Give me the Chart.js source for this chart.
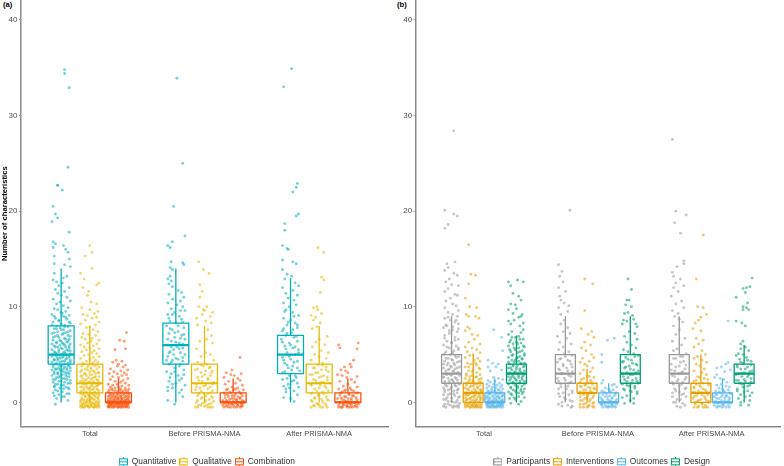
<!DOCTYPE html>
<html>
<head>
<meta charset="utf-8">
<title>Number of characteristics</title>
<script src="https://cdn.jsdelivr.net/npm/chart.js@4"></script>
<style>
  html, body { margin: 0; padding: 0; background: #fff; overflow: hidden; }
  canvas { position: absolute; top: -3px; }
  #chartA { left: 0; }
  #chartB { left: 392px; }
  .tag { position: absolute; top: 0; font: bold 7.7px "Liberation Sans", Arial, sans-serif; color: #000; }
</style>
</head>
<body>
<div class="tag" style="left:3px">(a)</div>
<div class="tag" style="left:397px">(b)</div>
<canvas id="chartA" width="392" height="469"></canvas>
<canvas id="chartB" width="392" height="469"></canvas>
<script>
const periods = ["Total", "Before PRISMA-NMA", "After PRISMA-NMA"];
const typeSeries = ["Quantitative", "Qualitative", "Combination"];
const typeColors = ["0,175,187", "231,184,0", "252,78,7"];
const domainSeries = ["Participants", "Interventions", "Outcomes", "Design"];
const domainColors = ["153,153,153", "230,159,0", "86,180,233", "0,158,115"];
const yTicks = [0, 10, 20, 30, 40];

// box stats per period: [whisker low, q1, median, q3, whisker high]
const quantitativeBox = [[0, 4, 5, 8, 14], [0, 4, 6, 8.3, 14], [0, 3, 5, 7, 13]];
const qualitativeBox = [[0, 1, 2, 4, 8], [0, 1, 2, 4, 8], [0, 1, 2, 4, 8]];
const combinationBox = [[0, 0, 0, 1, 2.5], [0, 0, 0, 1, 2.5], [0, 0, 0, 1, 2.5]];
const participantsBox = [[0, 2, 3, 5, 9], [0, 2, 3, 5, 9], [0, 2, 3, 5, 9]];
const interventionsBox = [[0, 0, 1, 2, 5], [0, 1, 1, 2, 3.5], [0, 0, 1, 2, 5]];
const outcomesBox = [[0, 0, 0, 1, 2.5], [0, 0, 0, 1, 2], [0, 0, 0, 1, 2.5]];
const designBox = [[0, 2, 3, 4, 7], [0, 2, 3, 5, 9], [0, 2, 3, 4, 6]];

// jittered points: x offset (1/100 category), value
const totalQuantitative = [3,34.8,3,34.4,7,32.9,6,24.6,-3,22.7,-3,22.7,1,22.2,-7,20.5,-5,19.7,-3,19.3,-8,18.9,7,17.8,-7,16.8,-5,16.6,2,16.4,-7,16.2,4,16,6,15.7,-6,15.3,7,15,-6,14.5,3,14.4,8,14.2,-6,13.5,5,13.2,2,13,-7,12.8,-4,12.6,1,12.5,-2,12.2,7,12,-5,11.8,3,11.6,-3,11.4,0,11.2,5,11,-7,10.8,8,10.6,-1,10.5,-4,10.3,2,10.1,6,9.9,-6,9.8,-3,9.7,4,9.5,0,9.4,-8,9.2,7,9.1,2,9,-5,8.8,5,8.7,-2,8.6,-7,8.4,8,8.3,0,8.2,3,8.1,-4,8,6,7.9,-1,7.8,-6,7.7,2,7.6,8,7.5,-3,7.4,4,7.3,-8,7.2,1,7.1,6,7,-5,6.9,-2,6.8,3,6.7,7,6.6,-7,6.5,0,6.4,5,6.3,-4,6.2,2,6.1,8,6.1,-1,6,-6,5.9,4,5.8,-3,5.8,7,5.7,1,5.6,-8,5.5,6,5.4,-2,5.3,3,5.3,-5,5.2,8,5.1,0,5,-7,5,5,4.9,-4,4.8,2,4.8,7,4.7,-1,4.6,-6,4.5,4,4.5,-3,4.4,1,4.3,8,4.2,-8,4.2,6,4.1,-5,4,3,4,-2,3.9,7,3.8,0,3.8,-7,3.7,5,3.6,-4,3.5,2,3.5,-1,3.4,8,3.3,-6,3.2,4,3.1,-3,3,7,3,1,2.9,-8,2.8,5,2.7,-2,2.6,3,2.5,-5,2.4,8,2.3,0,2.2,-7,2.1,6,2,-3,1.9,2,1.8,-6,1.7,4,1.6,-1,1.5,7,1.4,-5,1.3,1,1.1,-7,1,5,0.9,-2,0.8,3,0.6,-4,0.4,6,0.2,-5,-0.2];
const moreTotalQuantitative = [1,9.3,-6,9,4,8.9,-2,8.5,7,8.4,-8,8.1,3,7.9,-4,7.7,0,7.6,6,7.4,-6,7.3,2,7.2,-3,7,8,6.9,-7,6.8,4,6.6,-1,6.5,6,6.4,-4,6.3,1,6.2,-8,6.1,3,6,7,5.9,-5,5.8,0,5.7,-2,5.5,5,5.5,8,5.4,-6,5.3,2,5.2,-4,5.1,4,5.1,-1,4.9,7,4.9,-8,4.8,1,4.7,-3,4.6,5,4.6,-6,4.4,3,4.3,8,4.4,-1,4.2,-4,4.1,6,3.9,1,3.9,-7,3.9,3,3.7,-2,3.6,8,3.6,-5,3.5,5,3.4,0,3.3,-8,3.4,2,3.2,-3,3.1,6,3.1,-6,3,4,2.9,-1,2.8,7,2.7,-4,2.6,1,2.5,-7,2.4,5,2.4,-2,2.2,3,2.1,8,2,-5,1.9,0,1.8,-6,1.6,6,1.5,2,1.4,-3,1.2,7,0.9,-6,0.7,1,0.6];
const totalQualitative = [0,16.4,2,15.7,-4,15.3,2,14,-8,13.5,-5,12.9,8,12.5,6,12.3,-6,12,-1,11.6,-2,11.2,1,10.5,6,10.3,-7,9.9,0,9.7,7,9.5,4,9.3,-6,9.2,-2,9.1,6,8.9,2,8.8,-4,8.6,8,8.4,-8,8.2,5,8.1,0,7.9,-3,7.8,3,7.6,7,7.4,-6,7.2,-1,7.1,5,7,-7,6.8,2,6.7,-4,6.6,8,6.5,1,6.4,-2,6.2,6,6.1,-8,6,3,5.9,-5,5.8,0,5.7,8,5.6,-3,5.5,4,5.4,-7,5.3,2,5.2,6,5.1,-1,5,-5,4.9,8,4.8,3,4.7,-8,4.6,0,4.5,5,4.4,-3,4.3,7,4.2,-6,4.1,2,4,-1,3.9,4,3.8,-7,3.8,8,3.7,1,3.6,-4,3.5,6,3.5,-2,3.4,3,3.3,-8,3.2,0,3.2,7,3.1,-5,3,5,3,2,2.9,-3,2.8,-7,2.8,8,2.7,-1,2.6,4,2.6,-6,2.5,1,2.4,6,2.4,-4,2.3,3,2.2,-8,2.2,0,2.1,8,2.1,-2,2,5,2,-6,1.9,2,1.8,7,1.8,-3,1.7,-8,1.6,4,1.6,0,1.5,-5,1.5,6,1.4,-1,1.4,2,1.3,-7,1.2,8,1.2,-3,1.1,4,1.1,1,1,-5,1,6,0.9,-8,0.9,-1,0.8,3,0.8,8,0.7,-4,0.7,0,0.6,5,0.6,-7,0.5,2,0.5,-2,0.4,7,0.4,-5,0.3,4,0.3,-8,0.2,0,0.2,6,0.1,-3,0.1,2,0,8,0,-6,-0.1,-1,-0.1,4,-0.2,-4,-0.2,7,-0.3,1,-0.3,-7,-0.4,-2,-0.4,5,-0.4,3,-0.5,-5,-0.5,-8,-0.5,8,-0.5,0,-0.5];
const moreTotalQualitative = [3,4.2,-5,4,6,3.9,-2,3.7,1,3.5,-7,3.4,4,3.2,8,3.1,-4,3,0,2.9,-8,2.7,5,2.7,2,2.5,-3,2.4,7,2.3,-6,2.2,-1,2.1,3,2,-4,1.9,8,1.9,1,1.7,6,1.7,-7,1.6,-2,1.5,3,1.4,-5,1.3,7,1.3,0,1.2,-8,1.1,5,1,-3,1,2,0.9,8,0.9,-6,0.8,-1,0.7,4,0.7,-4,0.6,7,0.5,1,0.4,-7,0.3,3,0.3,-2,0.2,8,0.2,-5,0.1,5,0,0,0.1,-8,0,-3,0,3,-0.1,7,-0.1,-6,-0.2,1,-0.2,-2,-0.3,5,-0.3,-8,-0.3,8,-0.3,-4,-0.4,2,-0.4,-6,-0.5,-1,-0.5,4,-0.5,6,-0.5];
const totalCombination = [7,7.3,1,6.5,5,6.4,6,5.6,-3,5.5,-2,4.4,3,4.3,-5,4.2,0,4,6,3.9,-1,3.8,4,3.7,-7,3.5,8,3.4,2,3.3,-4,3.2,5,3.1,-8,3,-1,3,7,2.9,3,2.8,-5,2.7,0,2.6,8,2.5,-7,2.4,4,2.3,-3,2.2,2,2.1,6,2,-9,1.9,-1,1.9,9,1.8,-5,1.8,3,1.7,-7,1.6,0,1.6,6,1.5,-3,1.5,9,1.4,2,1.4,-8,1.3,-5,1.3,4,1.2,8,1.2,-1,1.1,-9,1.1,6,1,2,1,-4,0.9,9,0.9,-7,0.8,0,0.8,4,0.8,-2,0.7,7,0.7,-9,0.6,-5,0.6,2,0.6,9,0.5,5,0.5,-1,0.5,-7,0.4,-3,0.4,3,0.4,7,0.3,-9,0.3,0,0.3,5,0.2,-5,0.2,9,0.2,2,0.1,-8,0.1,-2,0.1,7,0,-6,0,4,0,0,0,-9,-0.1,9,-0.1,-4,-0.1,2,-0.1,6,-0.2,-7,-0.2,-1,-0.2,4,-0.2,8,-0.3,-5,-0.3,1,-0.3,-9,-0.4,-3,-0.4,6,-0.4,3,-0.4,9,-0.5,-7,-0.5,-1,-0.5,5,-0.5,-5,-0.5,2,-0.5];
const moreTotalCombination = [-6,1.4,1,1.3,6,1.3,-3,1.2,3,1.1,-7,1,8,1,-1,0.9,5,0.9,-5,0.8,2,0.7,9,0.7,-8,0.7,-3,0.6,6,0.6,0,0.5,-6,0.5,3,0.4,8,0.4,-4,0.3,-1,0.3,6,0.2,-7,0.2,2,0.2,-3,0.1,9,0.1,4,0.1,-9,0.1,0,-0.1,6,-0.1,-6,-0.1,-2,-0.2,2,-0.2,8,-0.2,-8,-0.2,4,-0.3,-3,-0.3,-6,-0.3,7,-0.4,0,-0.4,-8,-0.4,-4,-0.5,3,-0.5,7,-0.5,-9,-0.5,0,-0.5];
const beforeQuantitative = [1,33.9,6,25,-2,20.5,8,17.4,-3,16.8,-7,16.4,-5,16.2,-4,14.7,6,14.6,7,14.4,-5,14.1,-3,13.9,-5,13.2,-7,12.9,-4,12.7,-6,12.4,-3,12.1,2,11.7,5,11.5,-6,11.3,7,11,-3,10.8,4,10.6,-7,10.4,1,10.2,6,10,-4,9.8,8,9.6,-1,9.4,-7,9.2,3,9,5,8.7,-5,8.5,0,8.3,-8,8,7,7.8,-3,7.6,2,7.4,-6,7.2,5,7,-1,6.8,8,6.6,-4,6.4,3,6.2,-7,6,1,5.8,6,5.7,-2,5.5,-5,5.3,4,5.2,8,5,-7,4.8,0,4.6,-3,4.4,6,4.3,-6,4,3,3.8,-1,3.6,7,3.4,-8,3.2,-4,3,2,2.8,5,2.5,-6,2.2,0,2,8,1.8,-3,1.5,-7,1.2,3,1,6,0.6,-7,0.2,-1,-0.2];
const moreBeforeQuantitative = [4,9.6,-3,9.2,-6,8.8,6,8.4,2,8,-5,7.7,-1,7.3,7,7.1,4,6.7,-7,6.6,0,6.3,6,6.1,-4,5.8,3,5.6,-6,5.2,-2,5,6,4.7,2,4.5,-8,4.4,-4,4.2,4,4,-1,3.2,7,2.9,-5,2.6,3,2.3,-3,1.9,-7,1.6,5,1.3];
const beforeQualitative = [-5,14.7,-1,13.9,4,13.5,-4,12.3,-2,11.6,-4,11,-5,10,2,10,-1,9.7,0,9.6,7,9.4,-2,9.2,5,9,-7,8.8,1,8.5,6,8.3,-6,8.1,3,7.6,6,7,2,6.6,-4,6.4,7,6.2,-7,5.6,1,5.2,5,5,-3,4.8,8,4.4,-6,4.2,2,4,-1,3.8,4,3.6,-8,3.4,7,3.3,-3,3.1,0,2.9,5,2.8,-6,2.6,3,2.4,-2,2.2,8,2.1,-7,1.9,1,1.8,5,1.6,-4,1.5,-8,1.3,7,1.2,-1,1,3,0.9,-6,0.7,6,0.6,-3,0.4,1,0.2,8,0.1,-7,0,-2,-0.1,4,-0.2,-5,-0.3,0,-0.4,7,-0.5,-8,-0.5,3,-0.5];
const moreBeforeQualitative = [-3,3.9,5,3.7,-6,3.5,1,3.3,6,3.1,-2,2.7,3,2.5,-5,2.3,7,1.9,-1,1.7,-7,1.6,3,1.4,-3,1.2,5,1,-5,0.9,1,0.7,7,0.5,-2,0.5,4,0.3,-6,0.2,0,0,6,-0.1,-3,-0.3,2,-0.3,-6,-0.5,5,-0.5];
const beforeComb = [6,4.7,-1,3.4,-6,3.1,7,3,-2,2.9,1,2.8,-8,2.6,4,2.5,6,2.3,-4,2.2,2,2,-7,1.9,8,1.8,-1,1.6,4,1.5,-5,1.4,9,1.3,0,1.3,-3,1.1,6,1,-8,1,2,0.9,-5,0.8,8,0.7,-1,0.7,4,0.6,-7,0.5,1,0.4,6,0.4,-3,0.3,-9,0.2,3,0.2,9,0.1,-5,0.1,-1,0,6,0,-7,-0.1,2,-0.1,-3,-0.2,8,-0.2,-9,-0.3,4,-0.3,0,-0.3,-6,-0.4,7,-0.4,-2,-0.5,3,-0.5,-8,-0.5];
const moreBeforeComb = [2,1.4,-6,1.3,5,1.1,-2,1,7,0.9,-7,0.8,1,0.7,-4,0.6,6,0.5,-1,0.4,3,0.3,-6,0.2,8,0.2,0,0.1,-4,0,4,0,-8,0,7,-0.1,-1,-0.2,4,-0.3,-5,-0.3,8,-0.4,1,-0.5,-4,-0.5,6,-0.5];
const afterQuantitative = [1,34.9,-6,33,6,22.9,5,22.5,2,22,5,19.5,7,19.7,-5,18.7,-5,18,-7,16.4,-3,16.1,-2,16,-7,14.9,2,14.7,5,14.5,-7,13.9,-3,13.4,1,13.2,-5,12.9,4,12.5,7,12.2,-7,12,2,11.7,-4,11.4,6,11.2,-2,10.9,3,10.7,-6,10.4,5,10.2,-1,10,-4,9.7,2,9.4,7,9.1,-6,8.8,0,8.6,4,8.3,-3,8.1,6,7.8,-7,7.5,1,7.3,-4,7,3,6.8,-8,6.6,6,6.4,-1,6.2,-5,5.9,2,5.7,7,5.5,-3,5.2,4,5,-7,4.7,0,4.5,6,4.3,-5,4.1,2,3.8,-2,3.6,8,3.3,-7,3.1,4,2.8,-3,2.5,1,2.2,6,2,-6,1.7,-1,1.5,3,1.2,-4,1.1,6,0.8,-6,0.5,0,0.4,3,0.1];
const moreAfterQuantitative = [-5,9.5,3,9,-2,8.4,6,8.1,-6,7.7,2,7.6,-3,7.2,5,6.9,-7,6.3,0,6,4,5.8,-4,5.6,7,5.2,-1,4.8,-6,4.4,3,4.2,-3,3.9,6,3.6,1,3.4,-5,3.2,-1,2.8,5,2.6,-7,2.4,3,2.3,-2,1.9,7,1.6,-4,1.4];
const afterQualitative = [-1,16.2,4,15.7,2,13.1,4,12.8,1,11.5,-5,9.9,-2,10,-1,9.7,2,9.3,-7,9.1,-3,8.9,-5,8.6,1,8.3,-2,7.9,-6,7.7,7,6.9,0,6.6,-3,6.3,5,6,-6,5.8,2,5.4,8,5.2,-4,5,0,4.8,6,4.6,-7,4.4,3,4.1,-1,3.9,6,3.7,-5,3.6,2,3.4,8,3.2,-3,3.1,-8,2.9,4,2.8,0,2.6,-5,2.4,7,2.3,2,2.1,-3,2,-7,1.8,5,1.7,0,1.5,-4,1.4,8,1.2,3,1.1,-7,0.9,-1,0.8,6,0.6,-4,0.5,2,0.3,8,0.2,-6,0.1,-2,-0.1,5,-0.1,0,-0.3,-5,-0.3,3,-0.5,-7,-0.5,7,-0.5];
const moreAfterQualitative = [3,3.9,-4,3.6,6,3.4,-1,3.1,-6,2.9,2,2.7,7,2.6,-3,2.3,4,2.1,-7,1.9,1,1.8,6,1.5,-2,1.2,-6,1,4,0.9,0,0.7,-4,0.4,7,0.3,-7,0.2,3,0.1,-1,-0.2,6,-0.3,-4,-0.4,1,-0.5];
const afterComb = [-8,6,9,6.2,-7,5.7,8,5.6,5,4.4,2,4,-3,3.7,3,3.7,-6,3.4,-2,3.3,0,3.1,-9,2.9,-5,2.8,8,2.7,-1,2.6,3,2.4,-7,2.2,6,2.1,0,1.9,-4,1.7,8,1.6,2,1.5,-8,1.4,-2,1.3,5,1.2,-5,1.1,9,1,1,0.9,-7,0.8,4,0.7,-3,0.6,7,0.5,-9,0.4,0,0.4,-5,0.3,3,0.2,8,0.1,-2,0.1,-7,0,5,0,1,-0.1,-4,-0.2,9,-0.2,-8,-0.3,3,-0.3,-1,-0.4,6,-0.4,-5,-0.5,2,-0.5,-8,-0.5];
const moreAfterComb = [3,1.3,-3,1.2,7,1,-6,1,1,0.8,5,0.7,-2,0.6,-6,0.5,3,0.4,8,0.3,-3,0.2,0,0.1,6,0,-7,0,2,-0.1,-4,-0.3,7,-0.3,-1,-0.3,4,-0.5,-6,-0.5,0,-0.5,8,-0.5];
const totalParticipants = [2,28.4,-6,20.1,2,19.7,5,19.5,-3,18.6,-6,18.2,-4,14.5,3,14.7,-3,14.1,-6,13.8,2,13.5,5,13.3,-2,12.9,-5,12.6,0,12.3,6,12.2,-3,11.9,-6,11.6,3,11.3,5,11.2,-1,10.9,-5,10.6,1,10.3,4,10.1,-6,9.9,6,9.6,-3,9.4,1,9.2,5,9,-6,8.8,-1,8.6,3,8.4,6,8.2,-4,8,-7,7.8,1,7.6,5,7.4,-2,7.2,-6,7,3,6.8,6,6.6,-4,6.4,0,6.2,-7,6,4,5.9,-2,5.7,6,5.5,-5,5.3,1,5.2,-7,5,3,4.9,6,4.8,-3,4.6,0,4.5,-6,4.3,5,4.2,2,4.1,-4,3.9,-1,3.8,7,3.7,-7,3.6,3,3.5,-3,3.4,1,3.3,5,3.1,-5,3,-1,2.9,7,2.8,-7,2.7,3,2.6,-3,2.5,0,2.4,5,2.3,-6,2.2,2,2.1,-2,2,7,1.9,-5,1.8,4,1.7,0,1.6,-7,1.5,6,1.4,-3,1.3,2,1.2,-6,1.1,5,1,-1,0.9,-7,0.8,3,0.7,7,0.6,-4,0.5,0,0.4,-7,0.3,5,0.2,-3,0.1,2,0,7,-0.1,-6,-0.2,-1,-0.3,4,-0.4,-5,-0.5,6,-0.5,1,-0.5];
const moreTotalParticipants = [-3,8.9,4,8.6,-5,8.1,1,7.9,6,7.7,-2,7.5,-6,6.7,3,6.5,0,6.3,-4,5.8,6,5.7,2,5.4,-6,5.1,-1,5,4,4.7,-5,4.6,1,4.4,7,4.3,-3,4.1,-7,4,3,3.9,0,3.7,5,3.6,-2,3.5,-5,3.3,2,3.2,6,3.1,-4,2.9,0,2.8,-7,2.6,4,2.5,1,2.3,-2,2.2,-6,2,6,2,3,1.8,-4,1.7,-1,1.4,5,1.3,-6,1.3,2,0.9,-3,0.8,6,0.5,-5,0.3,0,0.1,4,0,-3,-0.2,-7,-0.4,2,-0.4,6,-0.3];
const totalInterventions = [-4,16.5,-2,13.4,2,13.3,-4,12.4,-7,10.9,-3,10,3,9.9,-6,9.2,-4,9,2,9,5,8.8,-5,7.9,-3,7.7,-7,7.5,-1,7.1,4,7,1,6.6,-4,6.3,6,6.1,-7,5.8,-1,5.7,3,5.5,-5,5.3,6,5.2,0,5,-3,4.9,-7,4.7,4,4.6,1,4.4,6,4.3,-5,4.1,-2,4,3,3.9,-7,3.7,6,3.5,0,3.4,-4,3.3,3,3.1,-6,3,6,2.9,-1,2.8,-3,2.7,2,2.6,-7,2.5,5,2.4,0,2.3,-4,2.2,7,2.1,-2,2,3,1.9,-6,1.8,6,1.8,0,1.7,-3,1.6,4,1.5,-7,1.5,1,1.4,6,1.3,-4,1.3,-1,1.2,3,1.1,7,1.1,-6,1,0,1,5,0.9,-3,0.9,-7,0.8,2,0.8,6,0.7,-5,0.7,-1,0.6,4,0.6,-7,0.5,1,0.5,7,0.4,-3,0.4,3,0.3,-5,0.3,0,0.2,6,0.2,-7,0.1,-2,0.1,4,0,1,0,-5,-0.1,7,-0.1,-3,-0.2,2,-0.2,-7,-0.3,5,-0.3,-1,-0.3,3,-0.4,-5,-0.4,7,-0.5,0,-0.5,-3,-0.5,-7,-0.5,4,-0.5];
const moreTotalInterventions = [2,4.1,-4,3.7,5,3.6,-1,3.2,-6,2.8,3,2.7,7,2.5,-3,2.4,0,2.2,5,2.1,-6,2,1,1.9,-2,1.7,4,1.6,-5,1.4,7,1.3,2,1.2,-2,1,4,1,-6,0.9,-4,0.8,1,0.7,6,0.5,-2,0.4,-6,0.3,2,0.2,5,0,-3,0,-7,-0.1,0,-0.1,-1,-0.3,7,-0.3,3,-0.3,-5,-0.3,1,-0.4,-2,-0.5,6,-0.5,2,-0.5];
const totalOutcomes = [-1,7.6,6,6.8,7,5.4,-6,4.4,-2,4.1,3,4,-6,3.7,1,3.7,6,3.4,-4,3.3,-1,2.6,3,2.5,7,2.4,-6,2.3,0,2.2,-4,2.1,4,2,-7,1.9,-1,1.9,6,1.8,2,1.8,-5,1.7,-2,1.6,5,1.6,-7,1.5,1,1.5,7,1.4,-3,1.4,4,1.3,-6,1.2,0,1.2,6,1.1,-3,1.1,2,1,-7,1,-5,0.9,4,0.9,7,0.8,0,0.8,-2,0.7,-6,0.7,3,0.6,6,0.6,-4,0.5,1,0.5,-7,0.4,4,0.4,-1,0.3,7,0.3,-5,0.2,2,0.2,-2,0.1,5,0.1,-7,0,0,0,3,0,7,-0.1,-4,-0.1,-1,-0.2,5,-0.2,-6,-0.2,2,-0.3,-3,-0.3,6,-0.3,0,-0.4,-7,-0.4,4,-0.4,-4,-0.5,2,-0.5,7,-0.5,-1,-0.5,-6,-0.5];
const moreTotalOutcomes = [3,1.3,-2,1.2,-5,1.1,5,1,1,1,-4,0.9,7,0.7,2,0.7,-7,0.6,-1,0.5,4,0.5,-5,0.4,1,0.3,6,0.2,-3,0.2,-6,0.1,3,0.1,0,0.1,7,0.1,-2,0,5,0,-5,-0.1,2,-0.1,-7,-0.2,-2,-0.3,4,-0.3,7,-0.3,-5,-0.4,2,-0.4,0,-0.5,-3,-0.5,5,-0.5];
const totalDesign = [-7,12.6,-5,12.2,1,12.8,6,12.6,-3,11.4,2,11.1,4,10.7,-5,10.3,-1,10.2,0,9.8,-7,9.7,5,9.2,-3,9.3,2,8.9,4,9,-7,8.5,-2,8.6,-5,8.2,3,8,6,8.3,6,7.6,-4,7.4,4,7.3,-7,7.1,2,6.9,-1,6.8,6,6.6,-5,6.5,0,6.3,4,6.2,-3,6.1,-7,5.9,7,5.8,2,5.7,-1,5.5,5,5.4,-5,5.3,1,5.2,-3,5,7,4.9,3,4.8,-7,4.7,0,4.6,5,4.5,-4,4.4,2,4.3,-2,4.2,7,4.1,-6,4,4,4,1,3.9,-3,3.8,6,3.7,-7,3.6,0,3.5,3,3.5,-4,3.4,7,3.3,-1,3.2,-6,3.1,4,3.1,1,3,-3,2.9,6,2.8,-7,2.7,2,2.6,-2,2.6,-5,2.5,5,2.4,0,2.3,7,2.2,-3,2.1,3,2,-7,1.9,-1,1.8,5,1.7,-5,1.6,1,1.5,7,1.4,-3,1.3,4,1.2,-7,1.1,0,1,5,0.9,-4,0.8,2,0.6,7,0.5,-6,0.4,-1,0.3,4,0.1,-5,-0.1,2,-0.2];
const moreTotalDesign = [-4,6.8,3,6.6,-6,6.3,1,6.1,6,5.9,-2,5.7,-6,5.5,3,5.3,7,5.1,-4,4.9,1,4.7,5,4.6,-1,4.4,-7,4.2,4,4.1,-3,3.9,7,3.8,0,3.7,-5,3.6,3,3.3,-2,3.1,-7,3,6,3,2,2.8,-4,2.7,5,2.6,-1,2.4,-6,2.3,3,2.2,-3,2,7,1.9,1,1.7,-5,1.5,4,1.4,-1,1.2,6,1.1,-5,0.9,2,1,-2,0.5];
const beforeParticipants = [4,20.1,-6,14.4,-3,13.7,-5,13.2,-2,12.6,-6,12,0,11.6,-5,11.1,-4,10.7,-1,10.4,3,10.1,-6,9.9,2,9.5,-4,9.2,-1,8.6,-4,8.2,2,7.8,-2,7.4,4,7.2,-7,6.9,1,6.7,-5,6.3,5,6.1,-2,5.8,-6,5.5,3,5.3,-1,5.1,6,4.9,-4,4.6,2,4.4,-7,4.2,5,4,-2,3.8,1,3.6,-5,3.4,6,3.2,-3,3,3,2.8,-7,2.5,0,2.3,5,2.1,-4,1.9,2,1.7,-6,1.4,6,1.2,-2,1,3,0.8,-5,0.6,0,0.3,6,0.1,-6,-0.2,2,-0.3,-3,-0.4,5,-0.5];
const moreBeforeParticipants = [0,4.8,-5,4.5,4,4.3,-2,4,6,3.7,-6,3.5,2,3.3,-3,3,5,2.7,-1,2.5,-6,2.2,3,2,-4,1.6,1,1.4,6,1,-6,0.9,-1,0.5,4,0.2,-3,0,6,-0.4];
const beforeInterventions = [-2,12.9,5,12.4,-2,9.6,-5,7.7,4,7.4,1,7.1,6,6.8,-2,6.3,3,6,-5,5.7,-1,5.4,4,5,6,4.7,-4,4.6,2,4.3,-6,4.2,-2,4,0,3.8,5,3.6,-3,3.4,3,3.2,-6,3,0,2.8,6,2.6,-3,2.5,3,2.3,-6,2.1,1,2,5,1.9,-2,1.8,-5,1.6,3,1.5,7,1.4,-1,1.3,-6,1.1,4,1,1,0.9,-3,0.8,6,0.7,-6,0.6,0,0.4,3,0.3,-4,0.2,6,0,-1,-0.1,-6,-0.2,2,-0.3,5,-0.4,-3,-0.5,0,-0.5];
const moreBeforeInterventions = [2,2.7,-5,2.4,4,2.1,-1,1.9,-6,1.7,1,1.6,6,1.5,-3,1.3,3,1.2,-6,0.9,1,0.7,5,0.5,-2,0.4,-6,0.2,2,0.1,5,-0.1,-3,-0.2,1,-0.4,-6,-0.5,6,-0.5];
const beforeOutcomes = [-1,6.5,5,6.7,-6,5,-6,4.2,-5,2.3,-6,2,3,1.8,5,1.9,7,1.6,-3,1.5,0,1.4,4,1.3,-6,1.2,2,1.1,6,1,-2,0.9,-5,0.8,1,0.7,5,0.7,-3,0.6,-7,0.5,3,0.4,7,0.3,-1,0.3,-5,0.2,2,0.1,5,0,-4,0,-7,-0.1,0,-0.1,3,-0.2,7,-0.2,-3,-0.3,-6,-0.3,1,-0.4,5,-0.4,-2,-0.5,-5,-0.5,3,-0.5];
const moreBeforeOutcomes = [1,1.2,-4,1.1,6,0.9,-1,0.6,3,0.5,-6,0.3,1,0.2,6,0.1,-3,0,-6,-0.2,3,-0.3,-1,-0.4,6,-0.5,0,-0.5];
const beforeDesign = [-2,12.9,1,11.8,-3,10.7,-1,10.7,-4,10.2,1,10,-5,9.3,-2,9.4,2,9.1,-6,8.6,3,8.7,-3,8.5,-7,8.2,5,8.2,6,7.9,-1,7.4,4,7.2,-5,6.9,6,6.6,-3,6.3,1,6,5,5.7,-6,5.5,-2,5.3,3,5.1,7,4.9,-4,4.7,1,4.4,-7,4.2,5,4,-1,3.8,-5,3.6,3,3.4,7,3.3,-3,3.1,0,2.9,-6,2.7,5,2.5,2,2.3,-3,2.2,7,2,-7,1.9,-1,1.7,4,1.5,-5,1.3,1,1.1,6,0.9,-3,0.7,-7,0.5,3,0.4,0,0.2,-5,-0.1,3,-0.1];
const moreBeforeDesign = [4,4.8,-2,4.5,-6,4.3,2,4.1,6,3.9,-4,3.7,0,3.5,5,3.1,-7,3,2,2.9,-2,2.6,-5,2.4,6,2.2,1,2,-3,1.8,4,1.7,-6,1.4,0,1.2,6,1.1];
const afterParticipants = [-6,27.5,-3,20,6,19.6,-4,18.8,1,17.7,4,14.8,4,14.5,-2,14.2,-6,13.6,-5,13.2,1,12.9,-3,12.5,4,12.2,-5,12,-1,11.6,-7,11.1,2,10.6,-3,10.3,4,9.9,-6,9.6,-1,9.3,-4,9,0,8.7,3,8.4,-5,8,0,7.6,-3,7.1,5,6.7,-6,6.4,2,6,-2,5.6,-5,5.4,6,5.1,1,4.8,-3,4.6,4,4.3,-7,4,0,3.8,5,3.5,-4,3.3,2,3.1,-6,2.8,6,2.6,-1,2.4,3,2.1,-5,1.9,0,1.7,5,1.4,-3,1.2,-6,1,2,0.8,6,0.6,-2,0.3,-5,0,3,-0.1,-2,-0.4,1,-0.5];
const moreAfterParticipants = [3,4.8,-5,4.6,1,4.2,6,3.9,-3,3.7,-7,3.4,3,3.2,0,3,-4,2.7,5,2.4,-2,2.2,-6,2.1,2,1.9,6,1.5,-4,1.4,0,1.1,4,0.9,-6,0.6,1,0.3,-3,0,5,-0.3];
const afterInterventions = [2,17.5,-4,12.9,5,9.2,-3,10,2,9.9,-2,8.6,0,8.9,-5,8.3,-7,7.7,0,7.5,-4,6.7,2,6.5,-2,6.1,-6,5.8,1,5.4,4,5,-3,4.8,-6,4.6,1,4.4,5,4.2,-4,4,-1,3.8,3,3.5,-6,3.3,1,3.1,5,2.9,-3,2.7,-1,2.6,6,2.4,-6,2.2,2,2,-4,1.9,7,1.8,0,1.6,-6,1.5,4,1.3,-2,1.2,-6,1.1,1,1,6,0.8,-4,0.7,3,0.6,-7,0.4,0,0.3,5,0.2,-3,0.1,7,0,-5,-0.2,1,-0.2,4,-0.3,-2,-0.4,-6,-0.5,6,-0.5,2,-0.5];
const moreAfterInterventions = [3,2.5,-4,2.3,6,2,-1,1.8,-6,1.6,2,1.4,5,1.1,-3,0.9,1,0.8,-6,0.6,4,0.4,-2,0.2,7,0.1,-5,0,1,-0.1,4,-0.5,-3,-0.5];
const afterOutcomes = [5,8.5,5,4.2,3,4,-1,3.7,-5,3.6,7,3.4,2,3.2,-5,2.9,-7,2.6,-2,2.5,1,2.4,4,2.1,-1,1.9,-5,1.8,3,1.7,6,1.6,-3,1.5,0,1.4,5,1.3,-6,1.2,2,1.1,-2,1,7,0.9,-5,0.8,0,0.8,4,0.7,-7,0.6,2,0.5,-3,0.4,6,0.3,-1,0.2,-6,0.1,3,0,7,-0.1,-4,-0.1,0,-0.2,5,-0.3,-7,-0.3,-2,-0.4,3,-0.5,-5,-0.5];
const moreAfterOutcomes = [1,1.2,-3,1.1,6,1,-6,0.9,3,0.7,-1,0.6,6,0.5,-5,0.4,2,0.2,-3,0,5,0.1,-7,0,1,-0.3,-4,-0.4,6,-0.5,0,-0.5];
const afterDesign = [7,13,-1,11.9,2,12,5,12.1,1,11.5,-7,11,3,10.4,-1,10,2,9.9,4,9.7,-1,9.7,-7,8.5,-2,8.3,1,8,-1,6.4,-3,6.1,1,5.8,-3,5.6,4,5.4,-5,5.1,-1,5,-7,4.9,2,4.7,-4,4.5,6,4.3,-1,4.1,-6,3.9,3,3.7,-3,3.5,7,3.3,0,3.1,-5,3,4,2.9,-2,2.7,6,2.5,-7,2.3,1,2.2,-4,2,5,1.8,-1,1.6,-6,1.4,3,1.2,7,1,-3,0.8,1,0.6,-5,0.4,5,0.2,-3,0,4,-0.3,-3,-0.3];
const moreAfterDesign = [3,4.4,-3,4.2,6,3.9,-6,3.7,1,3.5,5,3.2,-2,3,-7,2.9,3,2.7,0,2.4,-5,2.3,6,2.1,-2,1.9,3,1.7,-6,1.2,0,1.1,5,0.7];

const typePoints = [
  [totalQuantitative.concat(moreTotalQuantitative), beforeQuantitative.concat(moreBeforeQuantitative), afterQuantitative.concat(moreAfterQuantitative)],
  [totalQualitative.concat(moreTotalQualitative), beforeQualitative.concat(moreBeforeQualitative), afterQualitative.concat(moreAfterQualitative)],
  [totalCombination.concat(moreTotalCombination), beforeComb.concat(moreBeforeComb), afterComb.concat(moreAfterComb)]
];
const typeBoxes = [quantitativeBox, qualitativeBox, combinationBox];
const domainPoints = [
  [totalParticipants.concat(moreTotalParticipants), beforeParticipants.concat(moreBeforeParticipants), afterParticipants.concat(moreAfterParticipants)],
  [totalInterventions.concat(moreTotalInterventions), beforeInterventions.concat(moreBeforeInterventions), afterInterventions.concat(moreAfterInterventions)],
  [totalOutcomes.concat(moreTotalOutcomes), beforeOutcomes.concat(moreBeforeOutcomes), afterOutcomes.concat(moreAfterOutcomes)],
  [totalDesign.concat(moreTotalDesign), beforeDesign.concat(moreBeforeDesign), afterDesign.concat(moreAfterDesign)]
];
const domainBoxes = [participantsBox, interventionsBox, outcomesBox, designBox];

const FONT = '"Liberation Sans", Arial, sans-serif';

function lineSet(data, color, width) {
    return { data: data, showLine: true, pointRadius: 0, borderColor: color, borderWidth: width, order: 0, borderCapStyle: "butt" };
}

// builds jitter + box datasets for one panel
function buildDatasets(points, boxes, colors, dodge, halfBox) {
    const sets = [];
    const n = colors.length;
    colors.forEach((rgb, s) => {
        const shift = (s - (n - 1) / 2) * dodge;
        const solid = "rgb(" + rgb + ")";
        periods.forEach((period, p) => {
            const cx = p + 1 + shift;
            const flat = points[s][p];
            const pts = [];
            for (let i = 0; i < flat.length; i += 2) {
                pts.push({ x: cx + flat[i] / 100, y: flat[i + 1] });
            }
            sets.push({ data: pts, pointRadius: 1.45, pointBorderWidth: 0, pointBackgroundColor: "rgba(" + rgb + ",0.55)", order: 1 });

            const [low, q1, med, q3, high] = boxes[s][p];
            sets.push(lineSet([{ x: cx - halfBox, y: q1 }, { x: cx + halfBox, y: q1 }, { x: cx + halfBox, y: q3 }, { x: cx - halfBox, y: q3 }, { x: cx - halfBox, y: q1 }], solid, 1.3));
            sets.push(lineSet([{ x: cx - halfBox, y: med }, { x: cx + halfBox, y: med }], solid, 2.2));
            sets.push(lineSet([{ x: cx, y: q3 }, { x: cx, y: high }], solid, 1.3));
            sets.push(lineSet([{ x: cx, y: low }, { x: cx, y: q1 }], solid, 1.3));
        });
    });
    return sets;
}

// legend key: small box with a mid line
function boxKey(color) {
    const c = document.createElement("canvas");
    c.width = 9;
    c.height = 9;
    const g = c.getContext("2d");
    g.strokeStyle = color;
    g.lineWidth = 1;
    g.strokeRect(0.5, 1.5, 8, 6);
    g.beginPath();
    g.moveTo(0, 4.5);
    g.lineTo(9, 4.5);
    g.moveTo(4.5, 0);
    g.lineTo(4.5, 1);
    g.moveTo(4.5, 8);
    g.lineTo(4.5, 9);
    g.stroke();
    return c;
}

function makeChart(id, series, colors, points, boxes, dodge, halfBox, yWidth, rightPad, yTitle, legendShift) {
    new Chart(document.getElementById(id), {
        type: "scatter",
        data: { datasets: buildDatasets(points, boxes, colors, dodge, halfBox) },
        plugins: [{
            id: "moveLegend",
            afterLayout: (chart) => {
                chart.legend.left += legendShift;
                chart.legend.right += legendShift;
            }
        }],
        options: {
            responsive: false,
            animation: false,
            events: [],
            layout: { padding: { top: 0, left: 0, right: rightPad, bottom: -10 } },
            plugins: {
                tooltip: { enabled: false },
                legend: {
                    position: "bottom",
                    fullSize: false,
                    onClick: null,
                    labels: {
                        usePointStyle: true,
                        boxWidth: 9,
                        boxHeight: 8,
                        padding: 3.3,
                        color: "#333333",
                        font: { family: FONT, size: 8.4 },
                        generateLabels: () => series.map((name, i) => ({
                            text: name,
                            pointStyle: boxKey("rgb(" + colors[i] + ")"),
                            fontColor: "#333333",
                            lineWidth: 0,
                            strokeStyle: "transparent",
                            fillStyle: "transparent"
                        }))
                    }
                }
            },
            scales: {
                x: {
                    type: "linear",
                    min: 0.4,
                    max: 3.6,
                    afterFit: (s) => { s.height = 28; s.paddingLeft = 0; s.paddingRight = 0; },
                    afterBuildTicks: (s) => { s.ticks = periods.map((p, i) => ({ value: i + 1 })); },
                    grid: { drawOnChartArea: false, tickLength: 2, tickColor: "#808080", tickWidth: 0.8 },
                    border: { color: "#8a8a8a", width: 1.5 },
                    ticks: {
                        autoSkip: false,
                        maxRotation: 0,
                        padding: 1.5,
                        color: "#4d4d4d",
                        font: { family: FONT, size: 7.5 },
                        callback: (v) => periods[v - 1]
                    }
                },
                y: {
                    min: -2.5,
                    max: 41.98,
                    afterFit: (s) => { s.width = yWidth; s.paddingTop = 0; s.paddingBottom = 0; },
                    afterBuildTicks: (s) => { s.ticks = yTicks.map((v) => ({ value: v })); },
                    grid: { drawOnChartArea: false, tickLength: 2, tickColor: "#808080", tickWidth: 0.8 },
                    border: { color: "#8a8a8a", width: 1.5 },
                    title: { display: yTitle !== "", text: yTitle, color: "#000", padding: 0, font: { family: FONT, size: 7.7, weight: "bold" } },
                    ticks: { padding: 1.5, color: "#4d4d4d", font: { family: FONT, size: 8 } }
                }
            }
        }
    });
}

makeChart("chartA", typeSeries, typeColors, typePoints, typeBoxes, 0.25, 0.113, 21, 3, "Number of characteristics", 2.5);
makeChart("chartB", domainSeries, domainColors, domainPoints, domainBoxes, 0.19, 0.0875, 23.7, 2, "", 4);
</script>
</body>
</html>
